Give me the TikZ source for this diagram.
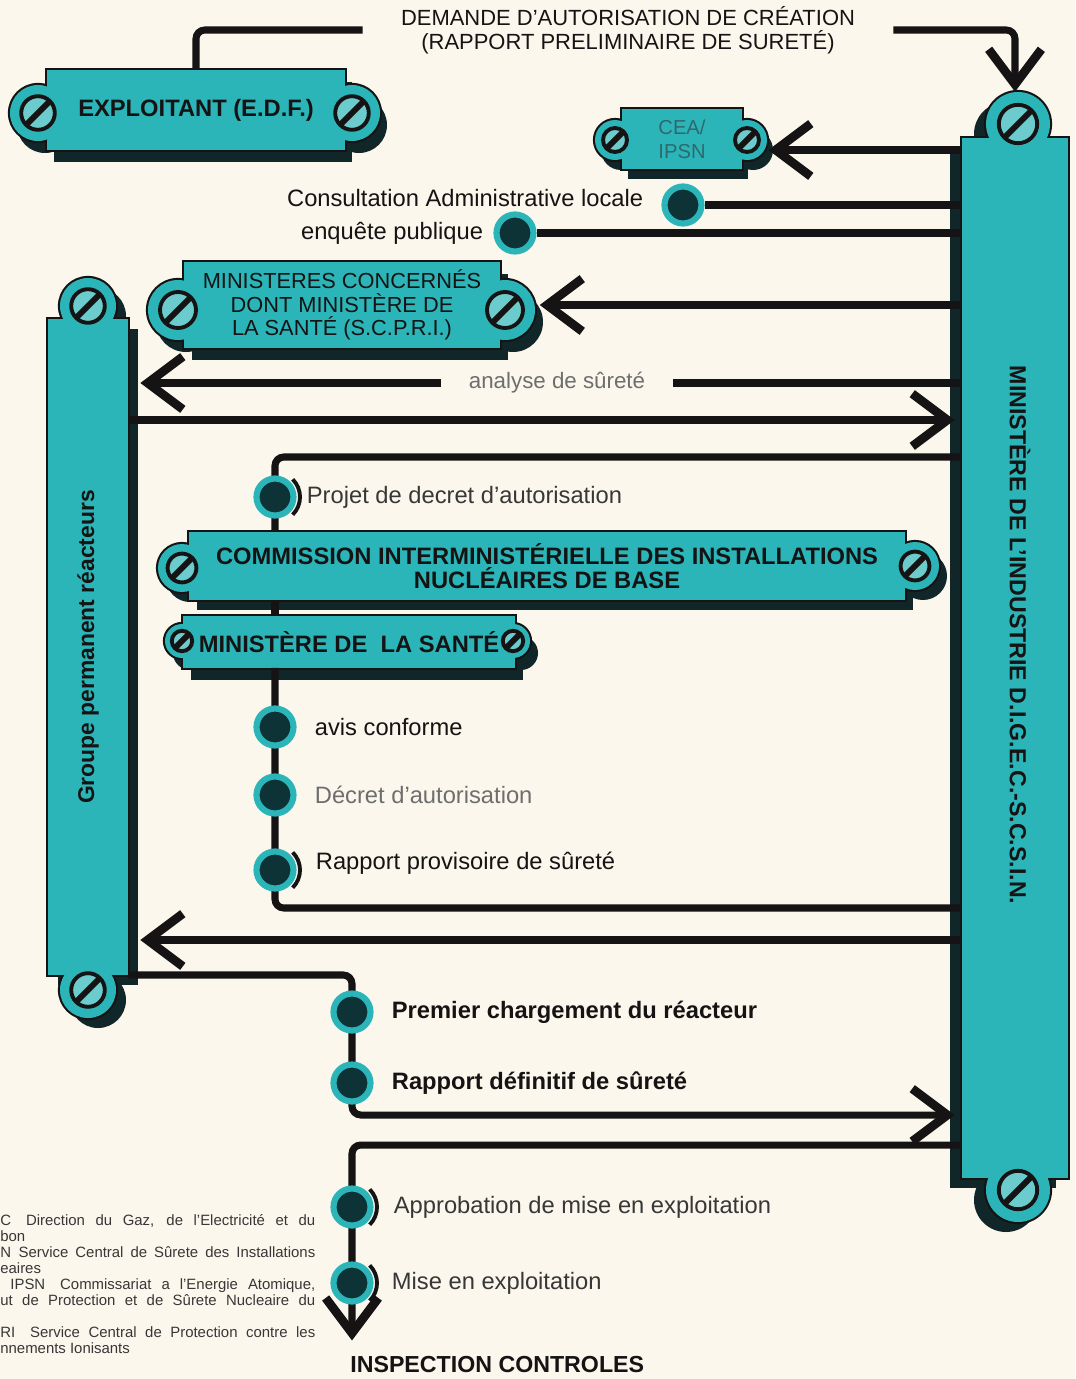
\documentclass[tikz,border=0pt]{standalone}
\usepackage{fontspec}
\setmainfont{Liberation Sans}
\usepackage{xcolor}
\usepackage{tikz}
\usetikzlibrary{arrows.meta, positioning, calc}
\definecolor{cream}{RGB}{251,247,236}
\definecolor{plateteal}{RGB}{43,181,184}
\definecolor{platedark}{RGB}{16,38,40}
\definecolor{beaddark}{RGB}{14,51,54}
\definecolor{linecol}{RGB}{21,19,19}
\definecolor{greytext}{RGB}{110,110,110}
\definecolor{darktext}{RGB}{55,55,55}
\definecolor{ceatext}{RGB}{47,105,110}
\pgfdeclarelayer{bg}
\pgfdeclarelayer{back}
\pgfdeclarelayer{lines}
\pgfsetlayers{bg,back,lines,main}
\newcommand{\screw}[2]{%
  \filldraw[fill=plateteal!70!white, draw=linecol, line width=2.2pt] (#1) circle[radius=0.6*#2];
  \draw[linecol, line width=3.4pt] ($(#1)+(-0.42*#2,0.42*#2)$) -- ($(#1)+(0.42*#2,-0.42*#2)$);}
\newcommand{\platedeco}[5]{% node, lobe A, lobe B, lobe radius, shadow shift
  \begin{pgfonlayer}{back}
    \fill[platedark] ([shift={#5}]#1.north west) rectangle ([shift={#5}]#1.south east);
    \fill[platedark] ($(#2)+#5$) circle[radius=#4];
    \fill[platedark] ($(#3)+#5$) circle[radius=#4];
    \draw[linecol, line width=2.4pt] (#1.north west) rectangle (#1.south east);
    \draw[linecol, line width=2.4pt] (#2) circle[radius=#4];
    \draw[linecol, line width=2.4pt] (#3) circle[radius=#4];
    \fill[plateteal] (#1.north west) rectangle (#1.south east);
    \fill[plateteal] (#2) circle[radius=#4];
    \fill[plateteal] (#3) circle[radius=#4];
  \end{pgfonlayer}
  \screw{#2}{#4}\screw{#3}{#4}}
\newcommand{\bracket}[1]{%
  \draw[linecol, line width=2.2pt] (#1.center) ++(-45:25) arc[start angle=-45, end angle=45, radius=25];}
\newcommand{\jl}[1]{\makebox[6.3cm][s]{#1}}

\begin{document}
\begin{tikzpicture}[
  x=0.02cm, y=-0.02cm,
  flow/.style={draw=linecol, line width=4pt, rounded corners=5pt},
  arr/.style={-{Straight Barb[length=20pt, width=30pt, line width=5pt]}},
  plate/.style={rectangle, inner sep=0pt, align=center, text=linecol},
  barbox/.style={rectangle, inner sep=0pt},
  bead/.style={circle, fill=beaddark, draw=plateteal, line width=3.5pt, minimum size=0.74cm, inner sep=0pt},
  lbl/.style={inner sep=0pt, font=\fontsize{13.5}{16}\selectfont, text=linecol},
  blbl/.style={lbl, font=\fontsize{13.5}{16}\selectfont\bfseries},
  note/.style={inner sep=0pt, align=left, text=darktext, font=\fontsize{8.5}{9.1}\selectfont}
]
  \useasboundingbox (0,0) rectangle (1075,1379);
  \begin{pgfonlayer}{bg}
    \fill[cream] (0,0) rectangle (1075,1379);
  \end{pgfonlayer}

  % request
  \node[lbl, align=center, font=\fontsize{12.5}{13.6}\selectfont, inner xsep=0.76cm] (title) at (628,30)
    {DEMANDE D'AUTORISATION DE CRÉATION\\(RAPPORT PRELIMINAIRE DE SURETÉ)};

  % plates
  \node[plate, minimum width=5.94cm, minimum height=1.6cm, font=\fontsize{13.5}{16}\selectfont\bfseries] (expl) at (196,110) {EXPLOITANT (E.D.F.)};
  \platedeco{expl}{38,113}{352,113}{28}{(7,12)}

  \node[plate, minimum width=2.4cm, minimum height=1.2cm, text=ceatext, font=\fontsize{11.5}{13.6}\selectfont] (cea) at (682,139) {CEA/\\IPSN};
  \platedeco{cea}{615,140}{747,140}{20}{(6,10)}

  \node[plate, minimum width=6.3cm, minimum height=1.72cm, font=\fontsize{12.4}{13.4}\selectfont] (mins) at (342,305)
    {MINISTERES CONCERNÉS\\DONT MINISTÈRE DE\\LA SANTÉ (S.C.P.R.I.)};
  \platedeco{mins}{178,310}{505,310}{30}{(8,12)}

  \node[plate, minimum width=14.3cm, minimum height=1.36cm, font=\fontsize{13.5}{13.6}\selectfont\bfseries] (cinb) at (547,566)
    {COMMISSION INTERMINISTÉRIELLE DES INSTALLATIONS\\NUCLÉAIRES DE BASE};
  \platedeco{cinb}{182,568}{915,566}{24}{(8,10)}

  \node[plate, minimum width=6.64cm, minimum height=1.02cm, font=\fontsize{13.5}{16}\selectfont\bfseries] (sante) at (349,642) {MINISTÈRE DE\ \ LA SANTÉ};
  \platedeco{sante}{182,641}{513,641}{17}{(8,12)}

  % bars
  \node[barbox, minimum width=2.12cm, minimum height=20.8cm] (rbar) at (1015,658) {};
  \platedeco{rbar}{1018,124}{1018,1190}{32}{(-12,10)}
  \node[blbl, font=\fontsize{13.2}{16}\selectfont\bfseries, rotate=-90] (rbartxt) at (1020,635) {MINISTÈRE DE L'INDUSTRIE D.I.G.E.C.-S.C.S.I.N.};

  \node[barbox, minimum width=1.6cm, minimum height=13.1cm] (lbar) at (88,647) {};
  \platedeco{lbar}{88,306}{88,990}{28}{(10,10)}
  \node[blbl, font=\fontsize{13}{16}\selectfont\bfseries, rotate=90] (lbartxt) at (lbar.center) {Groupe permanent réacteurs};

  % steps
  \node[bead] (bconsult) at (683,205) {};
  \node[lbl, left=0.36cm of bconsult, yshift=4pt] (tconsult) {Consultation Administrative locale};
  \node[bead] (benq) at (515,233) {};
  \node[lbl, left=0.2cm of benq] (tenq) {enquête publique};

  \node[lbl, text=greytext, inner xsep=0.56cm, font=\fontsize{12.7}{16}\selectfont] (analyse) at (557,383) {analyse de sûreté};

  \node[bead] (bprojet) at (275,497) {};
  \node[lbl, text=darktext, right=0.2cm of bprojet] (tprojet) {Projet de decret d'autorisation};
  \node[bead] (bavis) at (275,727) {};
  \node[lbl, right=0.36cm of bavis] (tavis) {avis conforme};
  \node[bead] (bdecret) at (275,795) {};
  \node[lbl, text=greytext, right=0.36cm of bdecret] (tdecret) {Décret d'autorisation};
  \node[bead] (brapp) at (275,870) {};
  \node[lbl, right=0.38cm of brapp, yshift=4pt] (trapp) {Rapport provisoire de sûreté};

  \node[bead] (bcharge) at (352,1012) {};
  \node[blbl, right=0.36cm of bcharge] (tcharge) {Premier chargement du réacteur};
  \node[bead] (bdefin) at (352,1083) {};
  \node[blbl, right=0.36cm of bdefin] (tdefin) {Rapport définitif de sûreté};
  \node[bead] (bapprob) at (352,1207) {};
  \node[lbl, text=darktext, right=0.4cm of bapprob] (tapprob) {Approbation de mise en exploitation};
  \node[bead] (bmise) at (352,1283) {};
  \node[lbl, text=darktext, right=0.36cm of bmise] (tmise) {Mise en exploitation};

  \node[blbl, font=\fontsize{13.2}{16}\selectfont\bfseries, anchor=west] (inspect) at (350,1364) {INSPECTION CONTROLES};

  \bracket{bprojet}
  \bracket{brapp}
  \bracket{bapprob}
  \bracket{bmise}

  % abbreviations
  \node[note, anchor=north west] (notes) at (0,1214) {%
    \jl{C\quad Direction du Gaz, de l'Electricité et du}\\
    bon\\
    \jl{N\enspace Service Central de Sûrete des Installations}\\
    eaires\\
    \jl{\ IPSN\quad Commissariat a l'Energie Atomique,}\\
    \jl{ut de Protection et de Sûrete Nucleaire du}\\
    \strut\\
    \jl{RI\quad Service Central de Protection contre les}\\
    nnements Ionisants};

  % levels
  \coordinate (hcea) at (0,150);
  \coordinate (hsix) at (0,420);
  \coordinate (hseven) at (0,457);
  \coordinate (hret) at (0,908);
  \coordinate (hnine) at (0,940);
  \coordinate (hten) at (0,975);
  \coordinate (heleven) at (0,1115);
  \coordinate (htwelve) at (0,1145);

  \begin{pgfonlayer}{lines}
    \draw[flow] (title.west) -| (expl.north);
    \draw[flow, arr, shorten >=0.92cm] (title.east) -| (rbar.north);
    \draw[flow, arr, shorten >=0.52cm] (rbar.west |- hcea) -- (cea.east |- hcea);
    \draw[flow] (rbar.west |- bconsult) -- (bconsult);
    \draw[flow] (rbar.west |- benq) -- (benq);
    \draw[flow, arr, shorten >=0.8cm] (rbar.west |- mins.east) -- (mins.east);
    \draw[flow] (rbar.west |- analyse) -- (analyse.east);
    \draw[flow, arr, shorten >=0.24cm] (analyse.west) -- (lbar.east |- analyse);
    \draw[flow, arr, shorten >=0.14cm] (lbar.east |- hsix) -- (rbar.west |- hsix);
    \draw[flow] (rbar.west |- hseven) -| (bprojet.center) -- (bprojet |- cinb.north);
    \draw[flow] (bprojet |- cinb.south) -- (bprojet |- sante.north);
    \draw[flow] (bprojet |- sante.south) -- (brapp.center) |- (rbar.west |- hret);
    \draw[flow, arr, shorten >=0.24cm] (rbar.west |- hnine) -- (lbar.east |- hnine);
    \draw[flow, arr, shorten >=0.14cm] (lbar.east |- hten) -| (bcharge.center) -- (bdefin.center) |- (rbar.west |- heleven);
    \draw[flow, arr, shorten >=0.3cm] (rbar.west |- htwelve) -| (bapprob.center) -- (bmise.center) -- (bmise |- inspect.north);
  \end{pgfonlayer}
\end{tikzpicture}
\end{document}
